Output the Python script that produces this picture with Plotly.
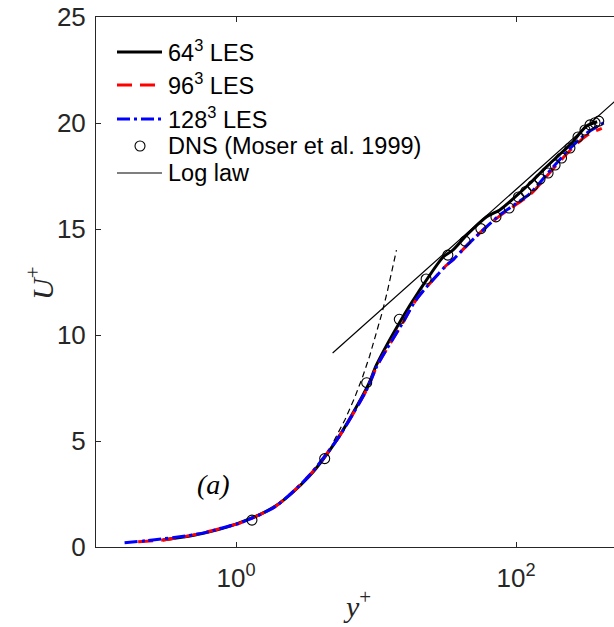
import plotly.graph_objects as go

# ---- data ----
les64_yp = [0.30, 0.5, 1.0, 1.9, 3.3, 5.25, 8.8, 10.1, 15.7, 20.0, 30.3, 35.4, 45, 61.7, 76.6, 100, 126, 160, 200, 250, 318, 380]
les64_u = [0.33, 0.55, 1.08, 1.92, 3.3, 5.05, 7.65, 8.6, 10.9, 12.0, 13.69, 14.0, 14.75, 15.58, 15.9, 16.55, 17.16, 17.85, 18.45, 19.05, 19.85, 20.06]

les96_yp = [0.20, 0.3, 0.553, 0.956, 1.07, 1.9, 3.28, 5.25, 6.35, 8.8, 10.1, 15.7, 19.3, 32.0, 35.4, 45, 61.7, 76.6, 100, 126, 185, 243, 318, 410]
les96_u = [0.25, 0.33, 0.63, 1.04, 1.13, 1.9, 3.32, 5.05, 5.91, 7.56, 8.5, 10.63, 11.65, 13.3, 13.54, 14.25, 15.11, 15.62, 16.15, 16.62, 17.85, 18.7, 19.4, 19.75]

les128_yp = [0.16, 0.23, 0.553, 0.956, 1.07, 1.9, 3.28, 5.25, 6.35, 8.8, 10.1, 15.7, 19.3, 32.0, 35.4, 45, 61.7, 76.6, 100, 126, 185, 243, 318, 438]
les128_u = [0.2, 0.3, 0.63, 1.04, 1.13, 1.9, 3.32, 5.05, 5.91, 7.56, 8.5, 10.63, 11.65, 13.3, 13.54, 14.25, 15.11, 15.66, 16.2, 16.68, 17.94, 18.8, 19.51, 20.06]

dns_yp = [1.30, 4.30, 8.58, 14.67, 22.8, 32.6, 43.3, 56.1, 71.9, 89.3, 104.2, 117.6, 132.1, 148.5, 169.5, 190.1, 211.5, 242.8, 277.3, 311, 337.8, 367, 390]
dns_u = [1.27, 4.17, 7.75, 10.74, 12.64, 13.77, 14.43, 15.02, 15.57, 15.99, 16.51, 16.77, 17.05, 17.36, 17.64, 18.02, 18.35, 18.82, 19.34, 19.67, 19.91, 20.01, 20.09]

loglaw_yp = [4.9, 600]
loglaw_u = [9.15, 21.45]

linear_yp = [5, 6, 7, 8, 9, 10, 11, 12, 13, 14]
linear_u = [5, 6, 7, 8, 9, 10, 11, 12, 13, 14]

x_tickvals = [1, 100]
x_ticktext = ["10<sup>0</sup>", "10<sup>2</sup>"]
y_tickvals = [0, 5, 10, 15, 20, 25]

legend_labels = ["64<sup>3</sup> LES", "96<sup>3</sup> LES", "128<sup>3</sup> LES",
                 "DNS (Moser et al. 1999)", "Log law"]

AX = "#262626"
FONT = "Liberation Sans, Arial, sans-serif"
SERIF = "Liberation Serif, Times New Roman, serif"

# plot-area geometry (pixels)
L, T, W, H = 96, 17, 518, 530


def px(x):
    return (x - L) / W


def py(y):
    return (T + H - y) / H


les_width = 3
styles = [
    dict(color="black", width=les_width, dash="solid"),
    dict(color="#ff0000", width=les_width, dash="15px,8px"),
    dict(color="#0000ff", width=les_width, dash="13px,4px,3px,4px"),
]


def smooth(st):
    d = dict(st)
    d["shape"] = "spline"
    d["smoothing"] = 0.8
    return d


fig = go.Figure()
fig.add_trace(go.Scatter(x=les64_yp, y=les64_u, mode="lines", name=legend_labels[0],
                         showlegend=False, line=smooth(styles[0])))
fig.add_trace(go.Scatter(x=les96_yp, y=les96_u, mode="lines", name=legend_labels[1],
                         showlegend=False, line=smooth(styles[1])))
fig.add_trace(go.Scatter(x=les128_yp, y=les128_u, mode="lines", name=legend_labels[2],
                         showlegend=False, line=smooth(styles[2])))
fig.add_trace(go.Scatter(x=dns_yp, y=dns_u, mode="markers", name=legend_labels[3],
                         showlegend=False,
                         marker=dict(symbol="circle-open", size=10, color="black", line=dict(width=1.1))))
fig.add_trace(go.Scatter(x=loglaw_yp, y=loglaw_u, mode="lines", name=legend_labels[4],
                         showlegend=False, line=dict(color="black", width=1.2)))
fig.add_trace(go.Scatter(x=linear_yp, y=linear_u, mode="lines", showlegend=False,
                         line=dict(color="black", width=1.2, dash="6px,4px")))

# ---- legend (drawn in paper coordinates) ----
row_y = [52, 85, 119, 146, 173]
sx0, sx1, tx = 117, 162, 166
shapes = []
annotations = []
for i, st in enumerate(styles):
    shapes.append(dict(type="line", xref="paper", yref="paper",
                       x0=px(sx0), x1=px(sx1), y0=py(row_y[i]), y1=py(row_y[i]),
                       line=st))
shapes.append(dict(type="circle", xref="paper", yref="paper",
                   x0=px(135), x1=px(145), y0=py(row_y[3] - 5), y1=py(row_y[3] + 5),
                   line=dict(color="black", width=1.1)))
shapes.append(dict(type="line", xref="paper", yref="paper",
                   x0=px(sx0), x1=px(sx1), y0=py(row_y[4]), y1=py(row_y[4]),
                   line=dict(color="black", width=1.2)))
for i, lab in enumerate(legend_labels):
    dy = -1.5 if i < 3 else 0
    annotations.append(dict(text=lab, xref="paper", yref="paper",
                            x=px(tx), y=py(row_y[i] + dy), xanchor="left", yanchor="middle",
                            showarrow=False,
                            font=dict(family=FONT, size=23.5, color="black")))

annotations += [
    dict(text="<i>U</i><sup>+</sup>", xref="paper", yref="paper",
         x=px(40), y=py(283), xanchor="center", yanchor="middle",
         showarrow=False, textangle=-90,
         font=dict(family=SERIF, size=30, color=AX)),
    dict(text="<i>y</i><sup>+</sup>", xref="paper", yref="paper",
         x=px(357), y=py(604), xanchor="center", yanchor="middle", showarrow=False,
         font=dict(family=SERIF, size=30, color=AX)),
    dict(text="<i>(a)</i>", xref="paper", yref="paper",
         x=px(213), y=py(484.5), xanchor="center", yanchor="middle", showarrow=False,
         font=dict(family=SERIF, size=28, color="black")),
]

fig.update_layout(
    width=614, height=627,
    margin=dict(l=L, r=614 - L - W, t=T, b=627 - T - H),
    paper_bgcolor="white", plot_bgcolor="white",
    font=dict(family=FONT, size=26, color=AX),
    showlegend=False,
    xaxis=dict(type="log", range=[-1, 2.7], showgrid=False, zeroline=False,
               showline=True, linecolor=AX, linewidth=1, mirror="ticks",
               ticks="inside", ticklen=5, tickcolor=AX,
               tickvals=x_tickvals, ticktext=x_ticktext,
               tickfont=dict(family=FONT, size=26, color=AX),
               ticklabelstandoff=8),
    yaxis=dict(range=[0, 25], showgrid=False, zeroline=False,
               showline=True, linecolor=AX, linewidth=1, mirror=False,
               ticks="inside", ticklen=5, tickcolor=AX,
               tickvals=y_tickvals,
               tickfont=dict(family=FONT, size=26, color=AX),
               ticklabelstandoff=4),
    shapes=shapes,
    annotations=annotations,
)

fig.write_html("out.html", config={"displayModeBar": False},
               post_script="document.body.style.margin='0';")
